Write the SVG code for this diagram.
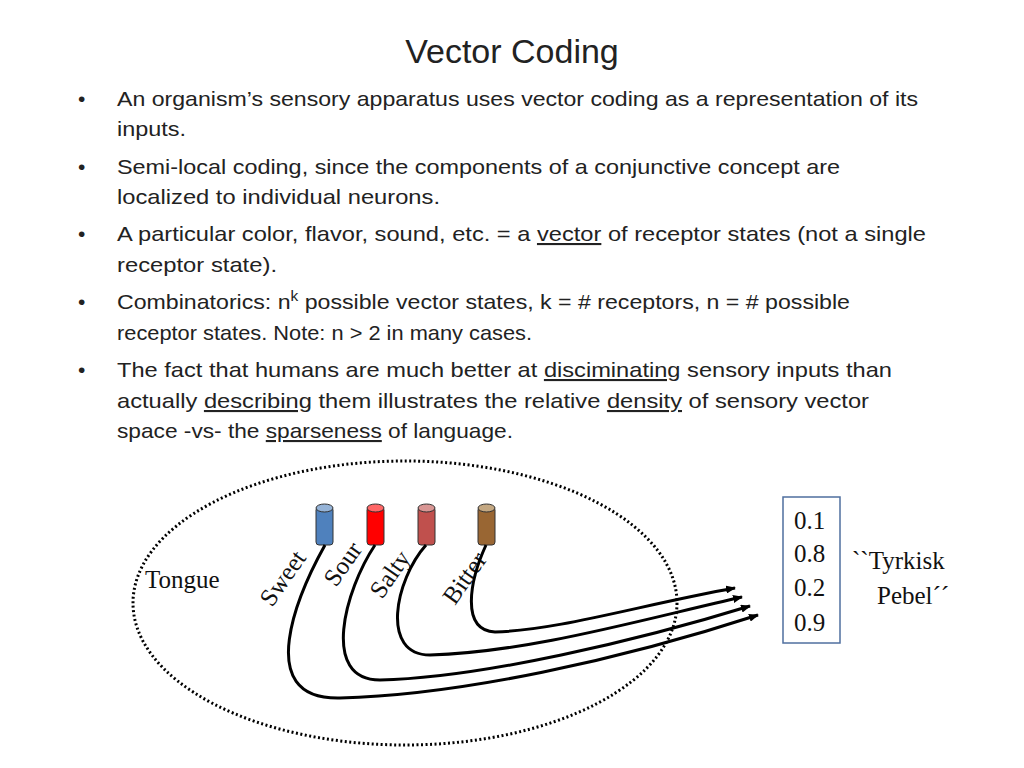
<svg xmlns="http://www.w3.org/2000/svg" width="1024" height="768" viewBox="0 0 1024 768">
<style>
.b{font-family:"Liberation Sans",Arial,sans-serif;font-size:21px;fill:#222}
.u{text-decoration:underline}
.t{font-family:"Liberation Serif","Times New Roman",serif;font-size:25px;fill:#111}
.c{stroke:#000;stroke-width:3;fill:none;marker-end:url(#ah)}
</style>
<defs><marker id="ah" markerWidth="10" markerHeight="8" refX="9" refY="4" orient="auto" markerUnits="userSpaceOnUse"><path d="M0,0 L10,4 L0,8z" fill="#000"/></marker></defs>
<rect width="1024" height="768" fill="#fff"/>
<text x="512" y="63" text-anchor="middle" font-family="Liberation Sans,Arial,sans-serif" font-size="34" fill="#222">Vector Coding</text>
<g class="b">
<text x="78" y="106">•</text><text x="78" y="174">•</text><text x="78" y="241">•</text><text x="78" y="309">•</text><text x="78" y="377">•</text>
<text x="117" y="106" textLength="801" lengthAdjust="spacingAndGlyphs">An organism’s sensory apparatus uses vector coding as a representation of its</text>
<text x="117" y="136" textLength="69" lengthAdjust="spacingAndGlyphs">inputs.</text>
<text x="117" y="174" textLength="723" lengthAdjust="spacingAndGlyphs">Semi-local coding, since the components of a conjunctive concept are</text>
<text x="117" y="204" textLength="323" lengthAdjust="spacingAndGlyphs">localized to individual neurons.</text>
<text x="117" y="241" textLength="809" lengthAdjust="spacingAndGlyphs">A particular color, flavor, sound, etc. =  a <tspan class="u">vector</tspan> of receptor states (not a single</text>
<text x="117" y="272" textLength="160" lengthAdjust="spacingAndGlyphs">receptor state).</text>
<text x="117" y="309" textLength="733" lengthAdjust="spacingAndGlyphs">Combinatorics: n<tspan dy="-8" font-size="14">k</tspan><tspan dy="8"> possible vector states, k = # receptors, n = # possible</tspan></text>
<text x="117" y="340" textLength="415" lengthAdjust="spacingAndGlyphs">receptor states.  Note: n &gt; 2 in many cases.</text>
<text x="117" y="377" textLength="775" lengthAdjust="spacingAndGlyphs">The fact that humans are much better at <tspan class="u">disciminating</tspan> sensory inputs than</text>
<text x="117" y="408" textLength="752" lengthAdjust="spacingAndGlyphs">actually <tspan class="u">describing</tspan> them illustrates the relative <tspan class="u">density</tspan> of sensory vector</text>
<text x="117" y="438" textLength="396" lengthAdjust="spacingAndGlyphs">space -vs- the <tspan class="u">sparseness</tspan> of language.</text>
</g>
<g id="tongue">
<ellipse cx="405" cy="603" rx="272" ry="142" fill="none" stroke="#000" stroke-width="3" stroke-dasharray="2,2.5"/>
<text class="t" x="145" y="588">Tongue</text>
</g>
<g id="receptors">
<g id="sweet"><rect x="316" y="507" width="17" height="38" rx="3" fill="#4f81bd" stroke="#333"/><ellipse cx="324.5" cy="508" rx="8.5" ry="4" fill="#95b3d7" stroke="#333"/></g>
<g id="sour"><rect x="367" y="507" width="17" height="38" rx="3" fill="#ff0000" stroke="#333"/><ellipse cx="375.5" cy="508" rx="8.5" ry="4" fill="#ff6666" stroke="#333"/></g>
<g id="salty"><rect x="418" y="507" width="17" height="38" rx="3" fill="#c0504d" stroke="#333"/><ellipse cx="426.5" cy="508" rx="8.5" ry="4" fill="#d99694" stroke="#333"/></g>
<g id="bitter"><rect x="478" y="507" width="17" height="38" rx="3" fill="#996633" stroke="#333"/><ellipse cx="486.5" cy="508" rx="8.5" ry="4" fill="#c4a882" stroke="#333"/></g>
<text class="t" transform="translate(272,608) rotate(-55)">Sweet</text>
<text class="t" transform="translate(336,588) rotate(-55)">Sour</text>
<text class="t" transform="translate(382,600) rotate(-55)">Salty</text>
<text class="t" transform="translate(455,606) rotate(-55)">Bitter</text>
</g>
<g id="connectors">
<path class="c" d="M486,545 C470,580 460,630 495,632 C560,630 640,605 735,588"/>
<path class="c" d="M426,545 C395,580 380,655 430,655 C530,652 640,620 742,597"/>
<path class="c" d="M375,545 C345,590 320,680 380,680 C480,678 640,640 750,606"/>
<path class="c" d="M325,545 C300,590 250,700 340,698 C460,695 620,660 758,615"/>
</g>
<g id="vector">
<rect x="783" y="497" width="57" height="146" fill="none" stroke="#4f6f9f" stroke-width="1.5"/>
<text class="t" x="794" y="529">0.1</text>
<text class="t" x="794" y="562">0.8</text>
<text class="t" x="794" y="596">0.2</text>
<text class="t" x="794" y="631">0.9</text>
</g>
<text class="t" x="852" y="569">``Tyrkisk</text>
<text class="t" x="877" y="604">Pebel´´</text>
</svg>
